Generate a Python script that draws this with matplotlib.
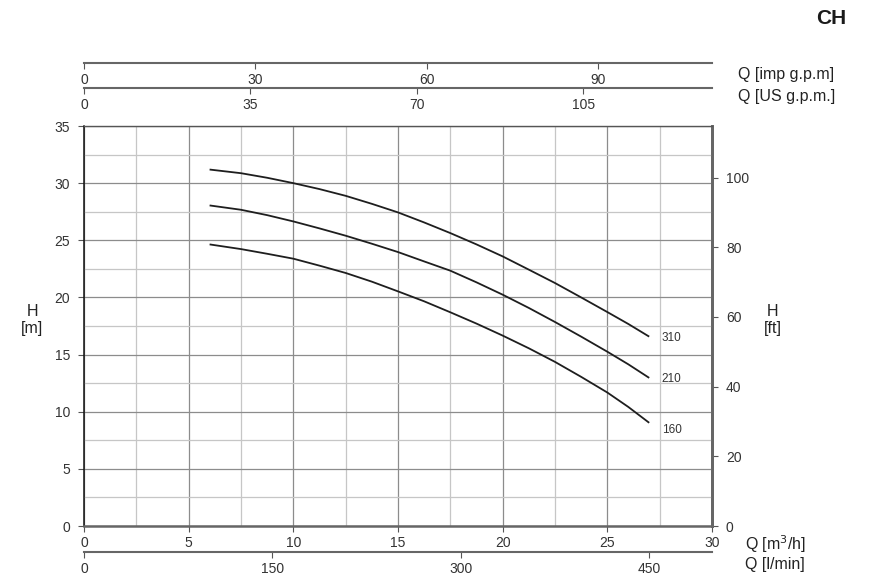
import matplotlib
matplotlib.use('Agg')
import matplotlib.pyplot as plt
import numpy as np

# ---- data ----
flow_m3h = [6, 7.5, 8.75, 10, 11.25, 12.5, 13.75, 15, 16.25, 17.5, 18.75, 20,
            21.25, 22.5, 23.75, 25, 26, 27]
head_310 = [31.19, 30.87, 30.47, 30.0, 29.48, 28.89, 28.19, 27.44, 26.56, 25.63,
            24.64, 23.59, 22.43, 21.26, 20.0, 18.72, 17.68, 16.57]
head_210 = [28.05, 27.67, 27.2, 26.65, 26.04, 25.4, 24.7, 23.97, 23.15, 22.34,
            21.32, 20.24, 19.08, 17.85, 16.57, 15.25, 14.15, 12.96]
head_160 = [24.64, 24.23, 23.82, 23.39, 22.78, 22.14, 21.38, 20.53, 19.66, 18.7,
            17.71, 16.66, 15.55, 14.36, 13.05, 11.68, 10.42, 9.03]
curve_names = ['310', '210', '160']

x_ticks_m3h = [0, 5, 10, 15, 20, 25, 30]
y_ticks_m = [0, 5, 10, 15, 20, 25, 30, 35]
y_ticks_ft = [0, 20, 40, 60, 80, 100]
ticks_lmin = [0, 150, 300, 450]
ticks_imp = [0, 30, 60, 90]
ticks_us = [0, 35, 70, 105]

M3H_TO_LMIN = 1000.0 / 60.0
M3H_TO_IMP = 219.969 / 60.0
M3H_TO_US = 264.172 / 60.0
M_TO_FT = 3.28084

plt.rcParams['font.family'] = ['Liberation Sans', 'DejaVu Sans']

W, H = 876, 581
fig = plt.figure(figsize=(W / 100, H / 100), dpi=100)
ax = fig.add_axes([84 / W, 1 - 526 / H, 628 / W, 400 / H])

ax.set_xlim(0, 30)
ax.set_ylim(0, 35)
ax.set_xticks(x_ticks_m3h)
ax.set_xticks(np.arange(0, 30.01, 2.5), minor=True)
ax.set_yticks(y_ticks_m)
ax.set_yticks(np.arange(0, 35.01, 2.5), minor=True)
ax.set_axisbelow(True)
ax.grid(which='major', color='#8c8c8c', lw=0.9)
ax.grid(which='minor', color='#c6c6c6', lw=0.9)
ax.tick_params(which='minor', length=0)
ax.tick_params(which='major', direction='out', length=4, width=0.8, color='#555555',
               labelsize=10, labelcolor='#333333', pad=3)
ax.tick_params(axis='y', pad=6)

ax.spines['left'].set_color('#111111')
ax.spines['left'].set_linewidth(1.1)
ax.spines['bottom'].set_color('#666666')
ax.spines['bottom'].set_linewidth(1.8)
ax.spines['top'].set_color('#555555')
ax.spines['top'].set_linewidth(1.0)
ax.spines['right'].set_color('#666666')
ax.spines['right'].set_linewidth(2.0)

for heads, name in zip([head_310, head_210, head_160], curve_names):
    ax.plot(flow_m3h, heads, color='#1e1e1e', lw=1.3, solid_capstyle='butt',
            solid_joinstyle='round')
    dy = -0.6 if name == '160' else -0.1
    ax.text(flow_m3h[-1] + 0.6, heads[-1] + dy, name, fontsize=8.5, color='#333333',
            va='center', ha='left')

# right axis (ft)
secy = ax.secondary_yaxis('right', functions=(lambda m: m * M_TO_FT, lambda f: f / M_TO_FT))
secy.set_yticks(y_ticks_ft)
secy.tick_params(direction='out', length=4, width=0.8, color='#555555',
                 labelsize=10, labelcolor='#333333', pad=6)
secy.spines['right'].set_color('#666666')
secy.spines['right'].set_linewidth(2.0)

def make_sec_x(pos, fwd, ticks, align_bottom):
    s = ax.secondary_xaxis(pos, functions=(lambda q: q * fwd, lambda v: v / fwd))
    if align_bottom:
        s.set_alignment('bottom')
    s.set_xticks(ticks)
    s.tick_params(direction='out', length=4, width=0.8, color='#555555',
                  labelsize=10, labelcolor='#333333', pad=3)
    for sp in s.spines.values():
        sp.set_color('#666666')
        sp.set_linewidth(1.5)
    return s

make_sec_x((526 - 552) / 400, M3H_TO_LMIN, ticks_lmin, False)
make_sec_x((526 - 63) / 400, M3H_TO_IMP, ticks_imp, True)
make_sec_x((526 - 88) / 400, M3H_TO_US, ticks_us, True)

tc = '#222222'
fig.text(738 / W, 1 - 74 / H, 'Q [imp g.p.m]', fontsize=11.5, color=tc, ha='left', va='center')
fig.text(738 / W, 1 - 97 / H, 'Q [US g.p.m.]', fontsize=11.5, color=tc, ha='left', va='center')
fig.text(745 / W, 1 - 544 / H, 'Q [m$^3$/h]', fontsize=11.5, color=tc, ha='left', va='center')
fig.text(745 / W, 1 - 565 / H, 'Q [l/min]', fontsize=11.5, color=tc, ha='left', va='center')
fig.text(32 / W, 1 - 320 / H, 'H\n[m]', fontsize=11.5, color=tc, ha='center', va='center',
         linespacing=1.1)
fig.text(773 / W, 1 - 320 / H, 'H\n[ft]', fontsize=11.5, color=tc, ha='center', va='center',
         linespacing=1.1)
fig.text(831 / W, 1 - 18 / H, 'CH', fontsize=15, fontweight='bold', color='#1a1a1a',
         ha='center', va='center')

fig.savefig('out.png', dpi=100)
